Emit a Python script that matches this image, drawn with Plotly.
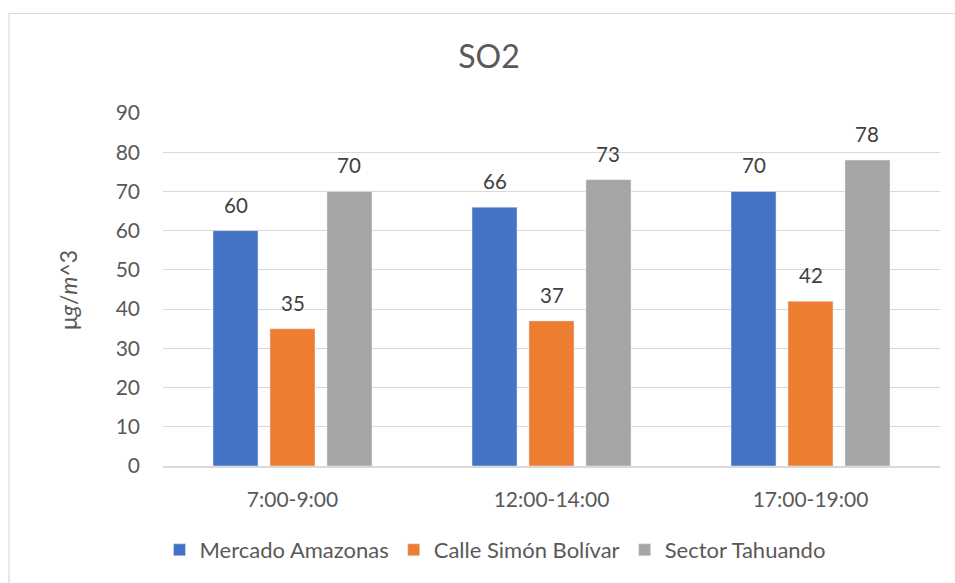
import plotly.graph_objects as go

categories = ["7:00-9:00", "12:00-14:00", "17:00-19:00"]
series_names = ["Mercado Amazonas", "Calle Simón Bolívar", "Sector Tahuando"]
mercado = [60, 66, 70]
calle = [35, 37, 42]
sector = [70, 73, 78]
colors = ["#4472C4", "#ED7D31", "#A5A5A5"]

FONT = "Lato, Carlito, Calibri, sans-serif"
W, H = 955, 583
L, R, T, B = 163, 15, 113, 117
pw, ph = W - L - R, H - T - B
BARGAP, GROUPGAP = 0.34, 0.21
slot_px = pw / len(categories) * (1 - BARGAP) / len(series_names)

def px_x(p):
    return (p - L) / pw

def px_y(p):
    return (H - B - p) / ph

fig = go.Figure()
annotations = []
for i, (name, vals, col) in enumerate(zip(series_names, [mercado, calle, sector], colors)):
    fig.add_trace(go.Bar(x=categories, y=vals, name=name, marker_color=col))
    for c, v in zip(categories, vals):
        annotations.append(dict(x=c, y=v, xref="x", yref="y", text=str(v), showarrow=False,
                                xshift=(i - 1) * slot_px, yshift=26, yanchor="middle",
                                font=dict(size=20.5, color="#404040", family=FONT)))

annotations.append(dict(text="μ<i>g</i>/<i>m</i>^3", xref="paper", yref="paper",
                        x=px_x(68), y=px_y(290), textangle=-90, showarrow=False,
                        xanchor="center", yanchor="middle",
                        font=dict(size=23, color="#595959", family=FONT)))

fig.update_layout(
    width=W, height=H,
    margin=dict(l=L, r=R, t=T, b=B),
    paper_bgcolor="white", plot_bgcolor="white",
    barmode="group", bargap=BARGAP, bargroupgap=GROUPGAP,
    font=dict(family=FONT, color="#595959", size=18),
    title=dict(text="SO2", x=489 / W, xanchor="center", y=1 - 57 / H, yanchor="middle",
               font=dict(size=32, color="#595959", family=FONT)),
    showlegend=True,
    legend=dict(orientation="h", x=px_x(495), xanchor="center", y=px_y(550), yanchor="middle",
                font=dict(size=22, color="#595959", family=FONT), traceorder="normal",
                itemwidth=30),
    xaxis=dict(showline=True, linecolor="#d9d9d9", linewidth=1.5, ticks="",
               tickfont=dict(size=21, color="#595959"), ticklabelstandoff=14),
    yaxis=dict(range=[0, 90], dtick=10, showgrid=True, gridcolor="#d9d9d9", gridwidth=1.3,
               zeroline=False, ticks="", tickfont=dict(size=21, color="#595959"),
               ticklabelstandoff=22),
    annotations=annotations,
    shapes=[dict(type="rect", xref="paper", yref="paper",
                 x0=px_x(9), x1=px_x(970), y0=px_y(600), y1=px_y(13.5),
                 line=dict(color="#d9d9d9", width=1.2), fillcolor="rgba(0,0,0,0)", layer="below")],
)

fig.write_html("out.html")
